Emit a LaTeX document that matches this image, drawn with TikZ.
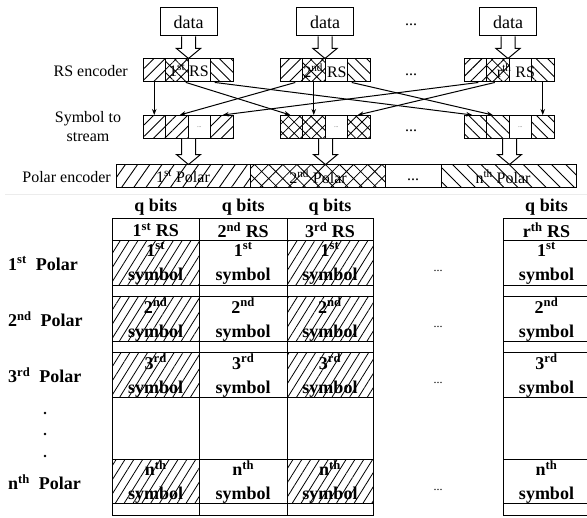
\documentclass[tikz,border=0pt]{standalone}
\usepackage{fontspec}
\setmainfont{Liberation Serif}
\usetikzlibrary{patterns.meta,arrows.meta,calc}
\newcommand\hollowarrow[2]{%
  \path let \p1=(#1), \p2=(#2) in
    [draw,fill=white,line width=1pt]
    (\x1-7pt,\y1) -- (\x1-7pt,\y2+10pt) -- (\x1-12pt,\y2+10pt) -- (\x1,\y2)
    -- (\x1+12pt,\y2+10pt) -- (\x1+7pt,\y2+10pt) -- (\x1+7pt,\y1);}
\newcommand\tcol[5]{% name, left, right, header, hatch style
  \node[qlab] (#1q) at ({(#2+#3)/2},207) {q bits};
  \node[tcell,qlab,minimum width={#3-#2},minimum height=22pt] (#1h) at ({(#2+#3)/2},230) {#4};
  \node[tcell,#5,minimum width={#3-#2},minimum height=45pt] (#1a) at ({(#2+#3)/2},263.5) {};
  \node[tcell,minimum width={#3-#2},minimum height=11pt] (#1t1) at ({(#2+#3)/2},291.5) {};
  \node[tcell,#5,minimum width={#3-#2},minimum height=45pt] (#1b) at ({(#2+#3)/2},319.5) {};
  \node[tcell,minimum width={#3-#2},minimum height=11pt] (#1t2) at ({(#2+#3)/2},347.5) {};
  \node[tcell,#5,minimum width={#3-#2},minimum height=45pt] (#1c) at ({(#2+#3)/2},375.5) {};
  \node[tcell,minimum width={#3-#2},minimum height=62pt] (#1e) at ({(#2+#3)/2},429) {};
  \node[tcell,#5,minimum width={#3-#2},minimum height=44pt] (#1d) at ({(#2+#3)/2},482) {};
  \node[tcell,minimum width={#3-#2},minimum height=12pt] (#1t3) at ({(#2+#3)/2},510) {};
  \node[tb] at (#1a) {1\textsuperscript{st}\\symbol};
  \node[tb] at (#1b) {2\textsuperscript{nd}\\symbol};
  \node[tb] at (#1c) {3\textsuperscript{rd}\\symbol};
  \node[tb] at (#1d) {n\textsuperscript{th}\\symbol};
}
\begin{document}
\begin{tikzpicture}[x=1pt,y=-1pt,
  cellbox/.style={draw,line width=1pt,minimum width=22.5pt,minimum height=23pt,inner sep=0pt},
  pne/.style={pattern={Lines[angle=45,distance=8pt,line width=0.9pt]}},
  pnw/.style={pattern={Lines[angle=-45,distance=8pt,line width=0.9pt]}},
  pxx/.style={pattern={Hatch[angle=45,distance=8pt,line width=0.8pt]}},
  ppne/.style={pattern={Lines[angle=55,distance=10pt,line width=0.9pt]}},
  ppnw/.style={pattern={Lines[angle=-45,distance=10pt,line width=0.9pt]}},
  ppxx/.style={pattern={Hatch[angle=45,distance=10pt,line width=0.8pt]}},
  thatch/.style={pattern={Lines[angle=58,distance=7.5pt,line width=0.8pt]}},
  nohatch/.style={},
  databox/.style={draw,line width=1pt,minimum width=57pt,minimum height=28pt,inner sep=0pt,font=\fontsize{18}{20}\selectfont},
  lab/.style={font=\fontsize{16}{19}\selectfont,inner sep=0pt,align=center},
  small/.style={font=\fontsize{16}{19}\selectfont,inner sep=0pt},
  conn/.style={line width=1pt,-{Stealth[length=6pt,width=4.5pt]}},
  tcell/.style={draw,line width=1pt,inner sep=0pt},
  tb/.style={font=\bfseries\fontsize{18}{24}\selectfont,align=center,inner sep=0pt},
  qlab/.style={font=\bfseries\fontsize{18}{20}\selectfont,inner sep=0pt},
  rowlab/.style={font=\bfseries\fontsize{18}{20}\selectfont,inner sep=0pt,anchor=west},
]
\useasboundingbox (0,0) rectangle (587,518);
% data boxes
\node[databox] (d1) at (188.5,22) {data};
\node[databox] (d2) at (325,22) {data};
\node[databox] (d3) at (508,22) {data};
\node[small] (dd) at (411,25) {...};
% RS encoder row
\foreach \k/\L in {1/143,2/280,3/464} {
  \node[cellbox,pne] (rs\k1) at (\L+11.25,70.5) {};
  \node[cellbox,pxx] (rs\k2) at (\L+33.75,70.5) {};
  \node[cellbox] (rs\k3) at (\L+56.25,70.5) {};
  \node[cellbox,pnw] (rs\k4) at (\L+78.75,70.5) {};
}
\node[small] at (189,70.5) {1\textsuperscript{st} RS};
\node[small] at (325,70.5) {2\textsuperscript{nd} RS};
\node[small] at (516,70.5) {r\textsuperscript{th} RS};
\node[small] at (411,75) {...};
% symbol to stream row
\foreach \j/\c in {1/11.25,2/33.75,4/78.75} {
  \node[cellbox,pne] (st1\j) at (143+\c,127) {};
  \node[cellbox,pxx] (st2\j) at (280+\c,127) {};
  \node[cellbox,pnw] (st3\j) at (464+\c,127) {};
}
\node[cellbox,font=\fontsize{5}{6}\selectfont] (st13) at (143+56.25,127) {...};
\node[cellbox,font=\fontsize{5}{6}\selectfont] (st23) at (280+56.25,127) {...};
\node[cellbox,font=\fontsize{5}{6}\selectfont] (st33) at (464+56.25,127) {...};
\node[small] at (411,131) {...};
% labels left
\node[lab,anchor=east] at (128,71) {RS encoder};
\node[lab] at (88,127) {Symbol to\\stream};
\node[lab,anchor=east] at (111,177) {Polar encoder};
% polar encoder row
\node[draw,line width=1pt,ppne,minimum width=134pt,minimum height=23pt,inner sep=0pt] (p1) at (183,176.5) {};
\node[draw,line width=1pt,ppxx,minimum width=135pt,minimum height=23pt,inner sep=0pt] (p2) at (317.5,176.5) {};
\node[draw,line width=1pt,minimum width=56pt,minimum height=23pt,inner sep=0pt] (p3) at (413,176.5) {};
\node[draw,line width=1pt,ppnw,minimum width=135pt,minimum height=23pt,inner sep=0pt] (p4) at (508.5,176.5) {};
\node[small] at (183,176.5) {1\textsuperscript{st} Polar};
\node[small] at (318,176.5) {2\textsuperscript{nd} Polar};
\node[small] at (413,180) {...};
\node[small] at (503,176.5) {n\textsuperscript{th} Polar};
% hollow arrows
\hollowarrow{d1.south}{rs13.north}
\hollowarrow{d2.south}{rs23.north}
\hollowarrow{d3.south}{rs33.north}
\hollowarrow{st12.south east}{p1.north}
\hollowarrow{st22.south east}{p2.north}
\hollowarrow{st32.south east}{p4.north}
% thin connectors
\draw[conn] (rs11.south) -- (st11.north);
\draw[conn] ([xshift=4pt]rs21.south) -- ([xshift=3pt]st12.north);
\draw[conn] ([xshift=3pt]rs31.south) -- ([xshift=1pt]st14.north);
\draw[conn] ([xshift=9pt]rs12.south) -- ([xshift=-1pt]st21.north);
\draw[conn] (rs22.south) -- (st22.north);
\draw[conn] ([xshift=-3pt]rs32.south) -- ([xshift=-1pt]st24.north);
\draw[conn] ([xshift=-7pt]rs14.south) -- ([xshift=-3pt]st31.north);
\draw[conn] ([xshift=-7pt]rs24.south) -- ([xshift=-5pt]st32.north);
\draw[conn] (rs34.south) -- (st34.north);
% separator
\draw[gray!15,line width=1pt] (5,195) -- (587,195);
% table
\tcol{A}{112}{199.5}{1\textsuperscript{st} RS}{thatch}
\tcol{B}{199.5}{287}{2\textsuperscript{nd} RS}{nohatch}
\tcol{C}{287}{373}{3\textsuperscript{rd} RS}{thatch}
\tcol{R}{503}{590}{r\textsuperscript{th} RS}{nohatch}
% row labels
\node[rowlab] at (8,263.5) {1\textsuperscript{st}~~Polar};
\node[rowlab] at (8,319.5) {2\textsuperscript{nd}~~Polar};
\node[rowlab] at (8,375.5) {3\textsuperscript{rd}~~Polar};
\node[rowlab] at (8,482) {n\textsuperscript{th}~~Polar};
\foreach \yy in {413,434,456} \fill (45,\yy) circle (1.3pt);
\foreach \yy in {271,327,383,490} \node[font=\fontsize{12}{14}\selectfont,inner sep=0pt] at (438,\yy) {...};
\end{tikzpicture}
\end{document}
